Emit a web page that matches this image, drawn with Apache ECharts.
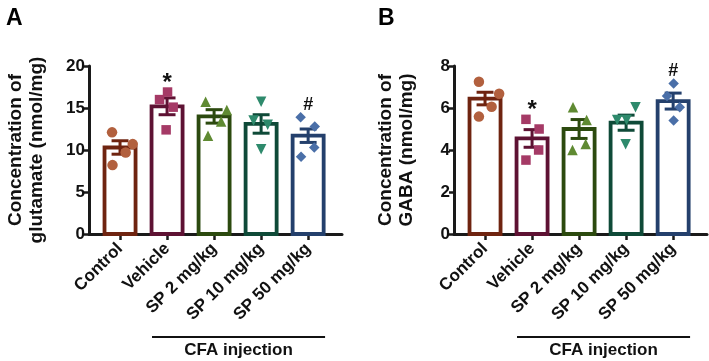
<!DOCTYPE html>
<html>
<head>
<meta charset="utf-8">
<script src="https://cdn.jsdelivr.net/npm/echarts@6/dist/echarts.min.js"></script>
<style>
  html, body { margin: 0; padding: 0; background: #fff; }
  #chart { width: 709px; height: 361px; }
</style>
</head>
<body>
<div id="chart"></div>
<script>
// groups on the x axis
var categories = ['Control', 'Vehicle', 'SP 2 mg/kg', 'SP 10 mg/kg', 'SP 50 mg/kg']

// panel A: glutamate (nmol/mg)
var gluMean = [10.3, 15.2, 14.0, 13.1, 11.7]
var gluSem = [0.8, 1.0, 0.8, 1.1, 0.8]
var gluPoints = [
  [12.1, 10.7, 9.7, 8.2],
  [16.9, 16.0, 15.1, 12.4],
  [15.75, 14.76, 13.4, 11.7],
  [15.75, 13.5, 13.0, 10.1],
  [13.9, 12.8, 10.3, 9.2]
]
var gluJitter = [
  [-0.17, 0.27, 0.12, -0.16],
  [0.01, -0.16, 0.13, -0.02],
  [-0.18, 0.27, 0.15, -0.13],
  [0, -0.16, 0.14, 0],
  [-0.16, 0.14, 0.13, -0.15]
]
var gluMarks = ['', '*', '', '', '#']
var gluTicks = [0, 5, 10, 15, 20]

// panel B: GABA (nmol/mg)
var gabaMean = [6.45, 4.55, 5.0, 5.3, 6.33]
var gabaSem = [0.3, 0.42, 0.45, 0.36, 0.38]
var gabaPoints = [
  [7.25, 6.68, 6.06, 5.59],
  [5.46, 5.0, 4.0, 3.52],
  [6.03, 5.43, 4.29, 4.0],
  [6.03, 5.43, 5.43, 4.27],
  [7.17, 6.57, 6.03, 5.4]
]
var gabaJitter = [
  [-0.13, 0.3, 0.14, -0.13],
  [-0.13, 0.15, 0.14, -0.13],
  [-0.13, 0.16, 0.14, -0.14],
  [0.2, -0.19, 0.01, -0.01],
  [0.01, -0.13, 0.14, 0.01]
]
var gabaMarks = ['', '*', '', '', '#']
var gabaTicks = [0, 2, 4, 6, 8]

var FONT = '"Liberation Sans", Arial, sans-serif'
var barColors = ['#6f2410', '#5e1233', '#2c4a0f', '#0f4a38', '#24406c']
var dotColors = ['#b2603e', '#a53a66', '#5f8a32', '#2e8a6c', '#4a6fa8']
var symbols = ['circle', 'rect', 'triangle', 'path://M0,0 L10,0 L5,9 Z', 'diamond']

var chart = echarts.init(document.getElementById('chart'))

function xAxisFor(gi) {
  return {
    type: 'value', gridIndex: gi, min: -0.66, max: 4.72,
    splitLine: { show: false },
    axisLine: { lineStyle: { color: '#1a1a1a', width: 3 } },
    axisTick: { customValues: [0, 1, 2, 3, 4], length: 6, lineStyle: { color: '#1a1a1a', width: 2.5 } },
    axisLabel: {
      customValues: [0, 1, 2, 3, 4], rotate: 45, margin: 12,
      fontFamily: FONT, fontWeight: 'bold', fontSize: 17, color: '#111',
      formatter: function (v) { return categories[Math.round(v)] }
    }
  }
}

function yAxisFor(gi, ticks, name, gap) {
  return {
    type: 'value', gridIndex: gi,
    min: ticks[0], max: ticks[ticks.length - 1], interval: ticks[1] - ticks[0],
    name: name, nameLocation: 'middle', nameGap: gap, nameRotate: 90,
    nameTextStyle: { fontFamily: FONT, fontWeight: 'bold', fontSize: 19, color: '#111', lineHeight: 21 },
    splitLine: { show: false },
    axisLine: { show: true, onZero: false, lineStyle: { color: '#1a1a1a', width: 3 } },
    axisTick: { show: true, length: 5, lineStyle: { color: '#1a1a1a', width: 2.5 } },
    axisLabel: { fontFamily: FONT, fontWeight: 'bold', fontSize: 17, color: '#111', margin: 4 }
  }
}

function panelSeries(gi, means, sems, points, jitter, marks) {
  var out = []
  // hollow bars with error bars
  out.push({
    type: 'custom', xAxisIndex: gi, yAxisIndex: gi, z: 2,
    data: means.map(function (m, i) { return [i, m, sems[i]] }),
    renderItem: function (params, api) {
      var i = api.value(0), m = api.value(1), s = api.value(2)
      var tl = api.coord([i - 0.33, m])
      var br = api.coord([i + 0.33, 0])
      var c = barColors[params.dataIndex]
      var hi = api.coord([i, m + s]), lo = api.coord([i, m - s])
      var capL = api.coord([i - 0.18, 0])[0], capR = api.coord([i + 0.18, 0])[0]
      return {
        type: 'group',
        children: [
          { type: 'rect', shape: { x: tl[0], y: tl[1], width: br[0] - tl[0], height: br[1] - tl[1] },
            style: { fill: 'none', stroke: c, lineWidth: 3.8 } },
          { type: 'line', z2: 5, shape: { x1: hi[0], y1: hi[1], x2: lo[0], y2: lo[1] }, style: { stroke: c, lineWidth: 3 } },
          { type: 'line', z2: 5, shape: { x1: capL, y1: hi[1], x2: capR, y2: hi[1] }, style: { stroke: c, lineWidth: 3 } },
          { type: 'line', z2: 5, shape: { x1: capL, y1: lo[1], x2: capR, y2: lo[1] }, style: { stroke: c, lineWidth: 3 } }
        ]
      }
    }
  })
  // individual animals
  points.forEach(function (vals, i) {
    out.push({
      type: 'scatter', xAxisIndex: gi, yAxisIndex: gi, z: 3,
      symbol: symbols[i], symbolSize: i === 1 ? 9.5 : 10.5,
      itemStyle: { color: dotColors[i], opacity: 1 },
      data: vals.map(function (v, k) { return [i + jitter[i][k], v] })
    })
  })
  // significance marks above the highest point
  out.push({
    type: 'custom', xAxisIndex: gi, yAxisIndex: gi, z: 4,
    data: marks.map(function (t, i) { return [i, Math.max.apply(null, points[i]), t] }),
    renderItem: function (params, api) {
      var t = marks[params.dataIndex]
      if (!t) return
      var p = api.coord([api.value(0), api.value(1)])
      return {
        type: 'text',
        style: {
          text: t, x: p[0], y: p[1] - (t === '*' ? -3 : 3),
          align: 'center', verticalAlign: 'bottom',
          font: 'bold ' + (t === '*' ? 24 : 18) + 'px ' + FONT, fill: '#111'
        }
      }
    }
  })
  return out
}

chart.setOption({
  backgroundColor: '#fff',
  animation: false,
  title: [
    { text: 'A', left: 1, top: 2, textStyle: { fontFamily: FONT, fontWeight: 'bold', fontSize: 23, color: '#000' } },
    { text: 'B', left: 373, top: 2, textStyle: { fontFamily: FONT, fontWeight: 'bold', fontSize: 23, color: '#000' } }
  ],
  grid: [
    { left: 89, right: 367, top: 66, bottom: 127, outerBoundsMode: 'none' },
    { left: 454, right: 2, top: 66, bottom: 127, outerBoundsMode: 'none' }
  ],
  xAxis: [xAxisFor(0), xAxisFor(1)],
  yAxis: [
    yAxisFor(0, gluTicks, 'Concentration of\nglutamate (nmol/mg)', 42),
    yAxisFor(1, gabaTicks, 'Concentration of\nGABA (nmol/mg)', 37)
  ],
  series: panelSeries(0, gluMean, gluSem, gluPoints, gluJitter, gluMarks)
    .concat(panelSeries(1, gabaMean, gabaSem, gabaPoints, gabaJitter, gabaMarks))
})

// "CFA injection" bracket under the treated groups
var graphics = []
;[0, 1].forEach(function (gi) {
  var x1 = chart.convertToPixel({ xAxisIndex: gi }, 0.68)
  var x2 = chart.convertToPixel({ xAxisIndex: gi }, 4.36)
  graphics.push({ type: 'line', shape: { x1: x1, y1: 337, x2: x2, y2: 337 }, style: { stroke: '#111', lineWidth: 2 } })
  graphics.push({ type: 'text', x: (x1 + x2) / 2, y: 350,
    style: { text: 'CFA injection', align: 'center', verticalAlign: 'middle', font: 'bold 17px ' + FONT, fill: '#111' } })
})
chart.setOption({ graphic: graphics })
</script>
</body>
</html>
